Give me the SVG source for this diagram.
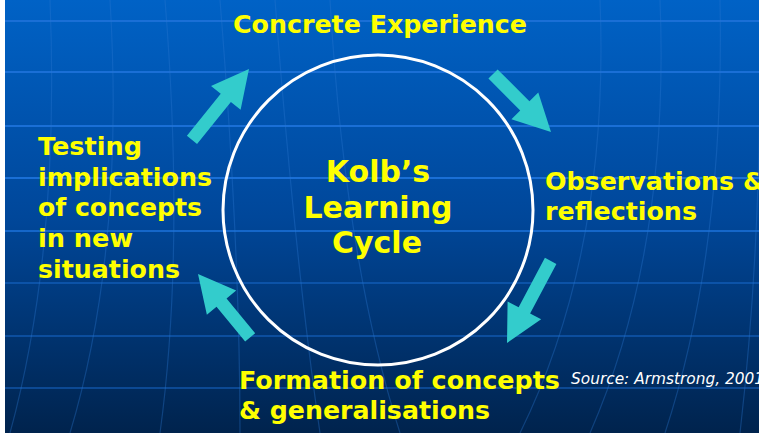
<svg xmlns="http://www.w3.org/2000/svg" width="759" height="433" viewBox="0 0 759 433">
<defs>
<linearGradient id="bg" x1="0" y1="0" x2="0" y2="1">
<stop offset="0" stop-color="#0062c6"/>
<stop offset="0.5" stop-color="#00479a"/>
<stop offset="1" stop-color="#00234d"/>
</linearGradient>
</defs>
<style>
.lbl{font-family:"DejaVu Sans",Verdana,sans-serif;font-weight:bold;fill:#ffff00;font-size:24px}
.ttl{font-family:"DejaVu Sans",Verdana,sans-serif;font-weight:bold;fill:#ffff00;font-size:30px}
.src{font-family:"DejaVu Sans",Verdana,sans-serif;font-style:italic;fill:#ffffff;font-size:15.5px}
.hg{stroke:#1a6fd6;stroke-width:2;fill:none}
.vg{stroke:#2a78d0;stroke-width:1.2;fill:none;opacity:0.35}
.arrow{fill:#33cccc}
</style>
<rect x="0" y="0" width="759" height="433" fill="url(#bg)"/>
<g id="grid">
<path class="hg" d="M5 21H759M5 72H759M5 126H759M5 178H759" />
<path class="hg" d="M5 231H759" opacity="0.8"/>
<path class="hg" d="M5 283H759M5 336H759M5 388H759" opacity="0.45"/>
<path class="vg" d="M50 0Q60 250 10 433M110 0Q125 250 70 433M165 0Q185 250 160 433M220 0Q240 250 240 433M275 0Q295 260 320 433M330 0Q345 260 400 433M600 0Q610 250 520 433M660 0Q670 250 590 433M720 0Q725 250 665 433M760 60Q760 260 740 433"/>
</g>
<rect x="0" y="0" width="5" height="433" fill="#ffffff"/>
<g id="cycle">
<circle cx="378" cy="210" r="155" fill="none" stroke="#ffffff" stroke-width="3"/>
<text class="ttl" x="378" y="182" text-anchor="middle">Kolb’s</text>
<text class="ttl" x="378" y="218" text-anchor="middle">Learning</text>
<text class="ttl" x="377" y="253" text-anchor="middle">Cycle</text>
</g>
<g id="concrete">
<text class="lbl" x="233" y="33" textLength="294" lengthAdjust="spacingAndGlyphs">Concrete Experience</text>
</g>
<g id="observations">
<text class="lbl" x="545" y="190" textLength="220" lengthAdjust="spacingAndGlyphs">Observations &amp;</text>
<text class="lbl" x="545" y="220" textLength="152" lengthAdjust="spacingAndGlyphs">reflections</text>
</g>
<g id="formation">
<text class="lbl" x="239" y="389" textLength="321" lengthAdjust="spacingAndGlyphs">Formation of concepts</text>
<text class="lbl" x="239" y="419" textLength="251" lengthAdjust="spacingAndGlyphs">&amp; generalisations</text>
</g>
<g id="testing">
<text class="lbl" x="38" y="155" textLength="104" lengthAdjust="spacingAndGlyphs">Testing</text>
<text class="lbl" x="38" y="186" textLength="174" lengthAdjust="spacingAndGlyphs">implications</text>
<text class="lbl" x="38" y="216" textLength="164" lengthAdjust="spacingAndGlyphs">of concepts</text>
<text class="lbl" x="38" y="247" textLength="95" lengthAdjust="spacingAndGlyphs">in new</text>
<text class="lbl" x="38" y="278" textLength="142" lengthAdjust="spacingAndGlyphs">situations</text>
</g>
<g id="source">
<text class="src" x="571" y="384" textLength="193" lengthAdjust="spacingAndGlyphs">Source: Armstrong, 2001</text>
</g>
<g id="connectors">
<g class="arrow" transform="translate(249,69) rotate(-51.2)"><polygon points="-91,-6.5 -37,-6.5 -37,-19 0,0 -37,19 -37,6.5 -91,6.5"/></g>
<g class="arrow" transform="translate(551,132) rotate(45)"><polygon points="-82,-6.5 -37,-6.5 -37,-19 0,0 -37,19 -37,6.5 -82,6.5"/></g>
<g class="arrow" transform="translate(507,343) rotate(118)"><polygon points="-93,-6.5 -37,-6.5 -37,-19 0,0 -37,19 -37,6.5 -93,6.5"/></g>
<g class="arrow" transform="translate(198,274) rotate(-129.5)"><polygon points="-82,-6.5 -37,-6.5 -37,-19 0,0 -37,19 -37,6.5 -82,6.5"/></g>
</g>
</svg>
